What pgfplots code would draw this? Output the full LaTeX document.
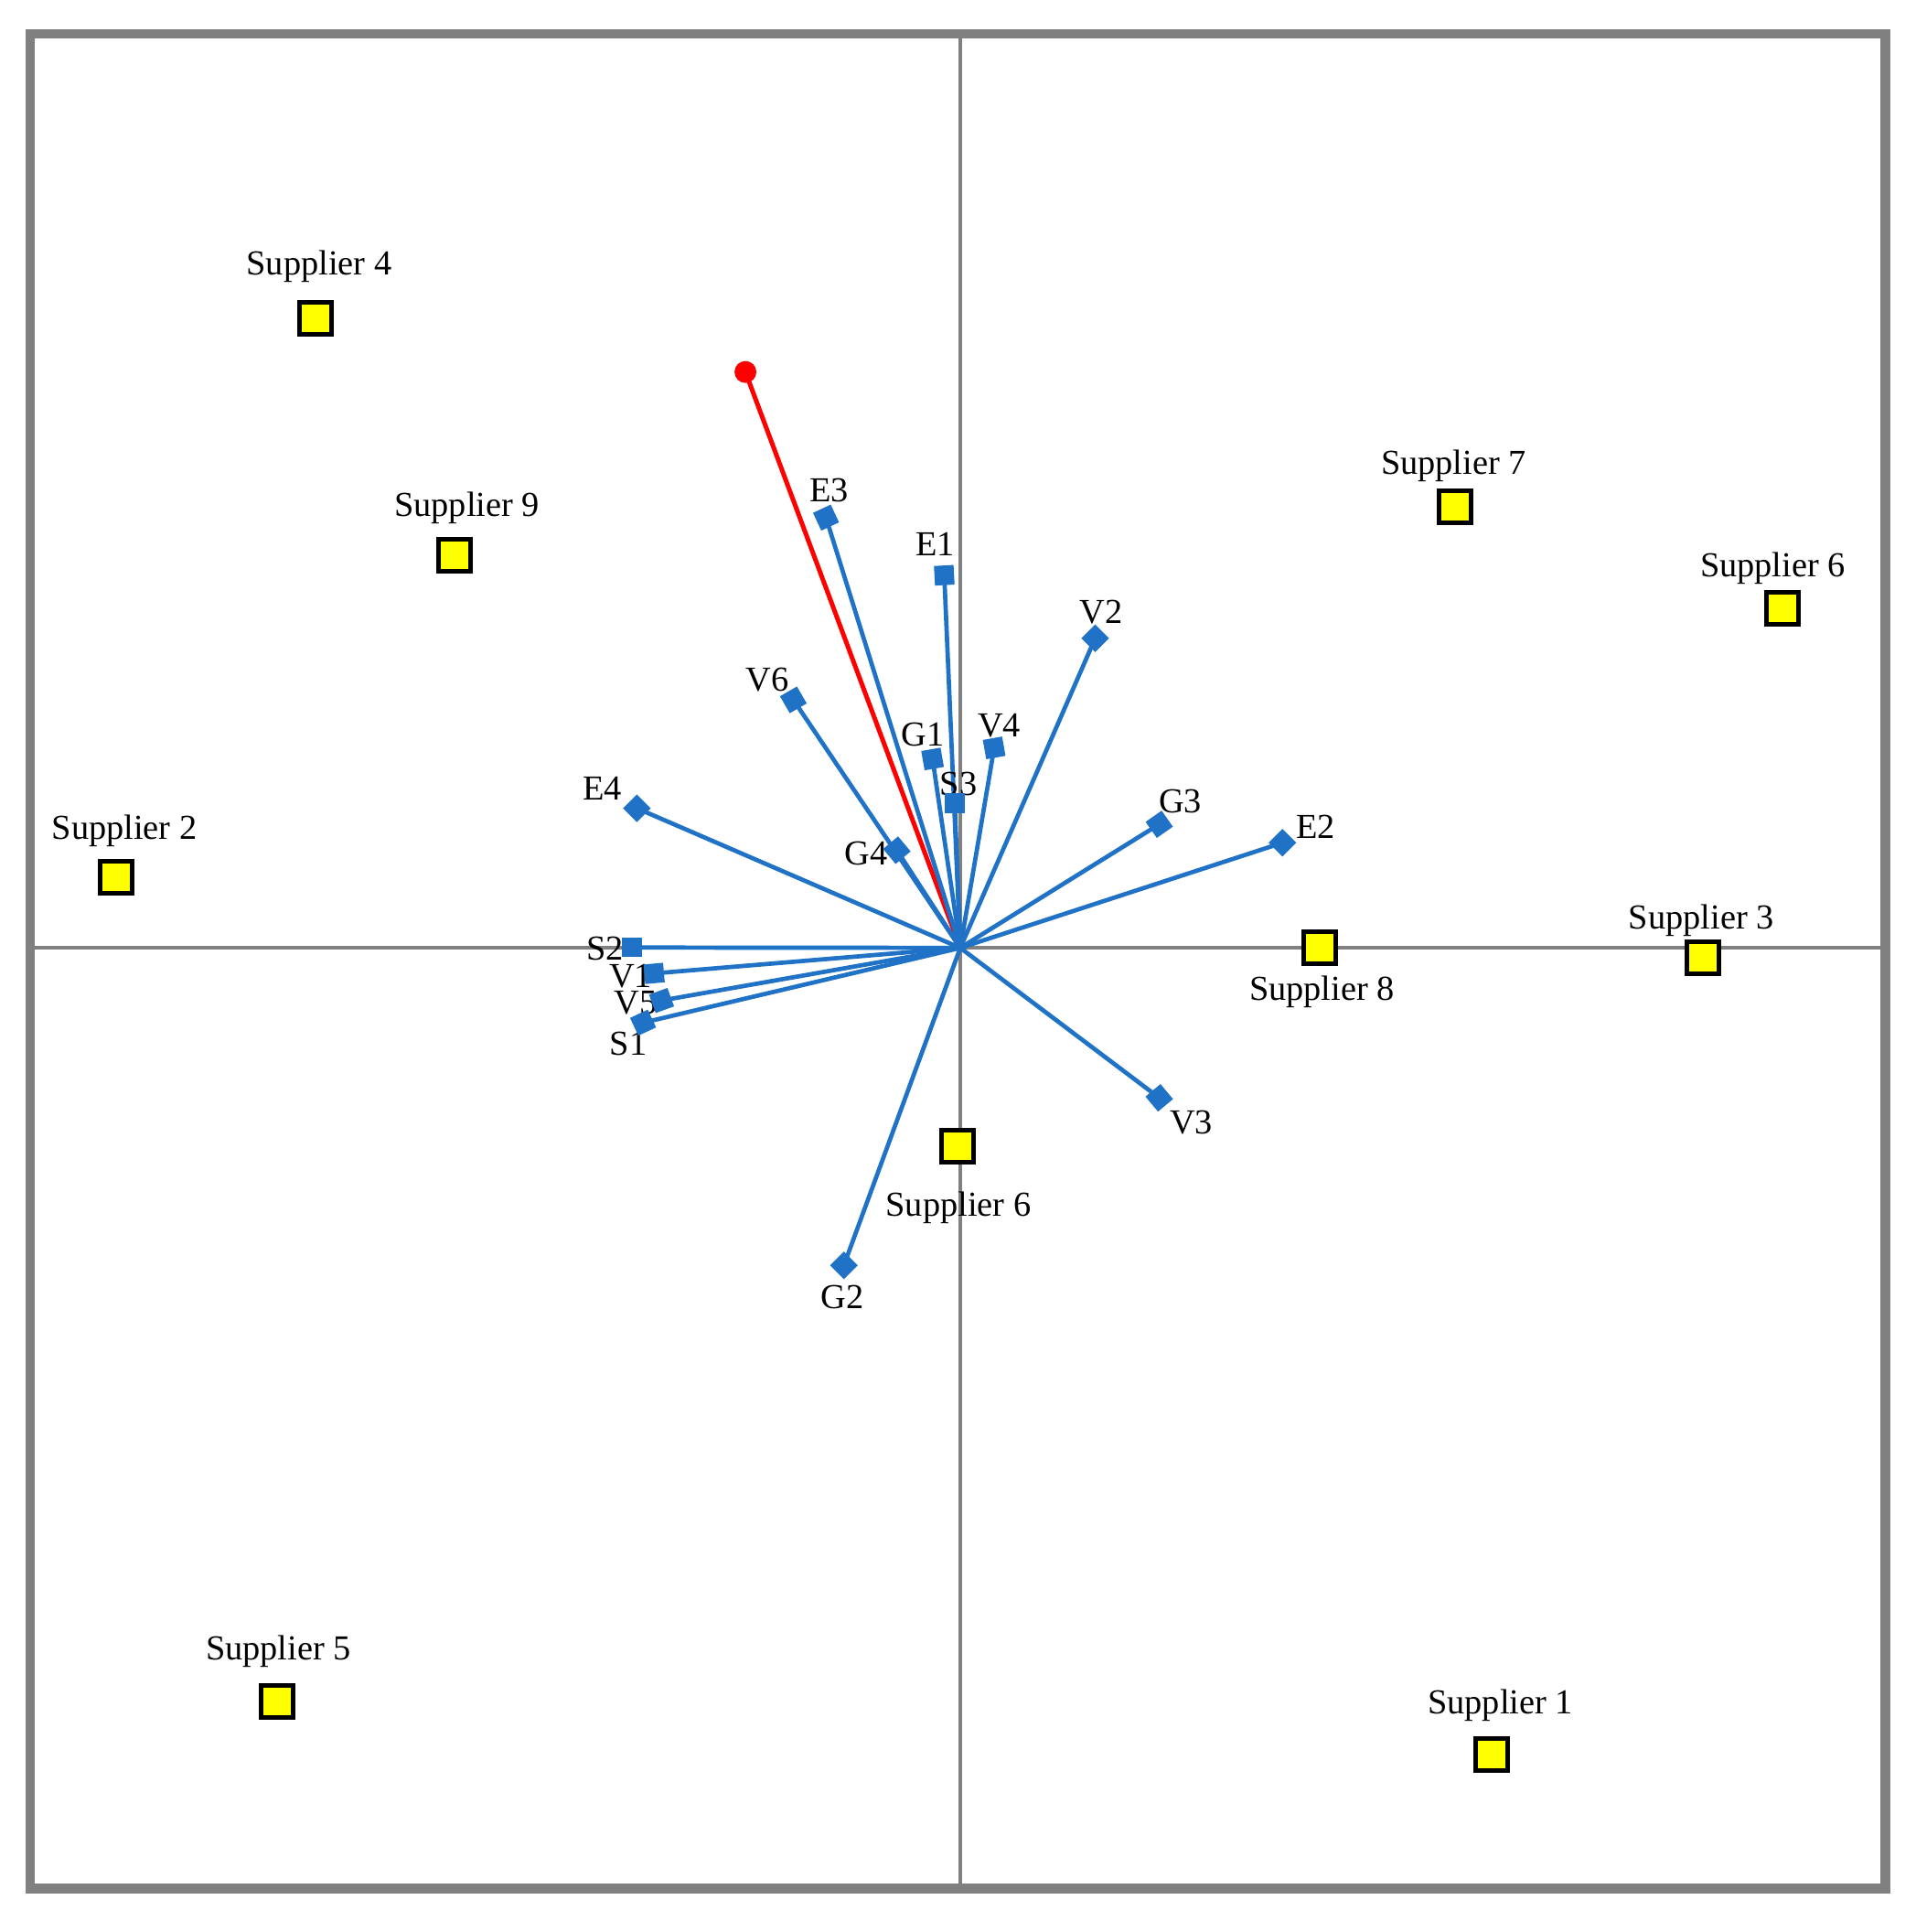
\documentclass[border=0pt]{standalone}
\usepackage{fontspec}
\setmainfont{Liberation Serif}
\usepackage{pgfplots}
\pgfplotsset{compat=1.18}
\definecolor{vecBlue}{HTML}{1F72C6}
\definecolor{supYellow}{HTML}{FFFF00}
\tikzset{
  vec/.style={vecBlue, line width=0.35mm, mark=square*, mark indices={2}, mark size=0.62mm},
  lbl/.style={font=\fontsize{8.1}{10}\selectfont, inner sep=0pt, anchor=center},
}

\begin{document}
\begin{tikzpicture}
\begin{axis}[
  scale only axis, width=150.61mm, height=150.52mm,
  xmin=-755, xmax=751, ymin=-763.4, ymax=741.8,
  ticks=none, clip=false,
  axis line style={draw=gray, line width=2.3pt},
]
% quadrant lines
\addplot[gray, line width=0.3mm] coordinates {(-755,0) (751,0)};
\addplot[gray, line width=0.3mm] coordinates {(0,-763.4) (0,741.8)};

% red reference vector
\addplot[red, line width=0.37mm, mark=*, mark indices={2}, mark size=0.7mm] coordinates {(0,0) (-174.4,467.4)};

% attribute vectors
\addplot[vec, mark options={rotate=25}] coordinates {(0,0) (-109,349.2)};   % E3
\addplot[vec, mark options={rotate=3}]  coordinates {(0,0) (-13,302.4)};    % E1
\addplot[vec, mark options={rotate=45}] coordinates {(0,0) (109.5,251.3)};  % V2
\addplot[vec, mark options={rotate=30}] coordinates {(0,0) (-135.5,201.3)}; % V6
\addplot[vec, mark options={rotate=10}] coordinates {(0,0) (-22.5,153.3)};  % G1
\addplot[vec, mark options={rotate=10}] coordinates {(0,0) (27.5,162.3)};   % V4
\addplot[vec, mark options={rotate=0}]  coordinates {(0,0) (-4.5,117.3)};   % S3
\addplot[vec, mark options={rotate=45}] coordinates {(0,0) (-262.5,113.3)}; % E4
\addplot[vec, mark options={rotate=35}] coordinates {(0,0) (161.5,100.3)};  % G3
\addplot[vec, mark options={rotate=45}] coordinates {(0,0) (261.5,85.3)};   % E2
\addplot[vec, mark options={rotate=40}] coordinates {(0,0) (-51.5,79.3)};   % G4
\addplot[vec, mark options={rotate=0}]  coordinates {(0,0) (-266.5,0.3)};   % S2
\addplot[vec, mark options={rotate=5}]  coordinates {(0,0) (-248.5,-20.7)}; % V1
\addplot[vec, mark options={rotate=20}] coordinates {(0,0) (-242.5,-42.7)}; % V5
\addplot[vec, mark options={rotate=25}] coordinates {(0,0) (-257.5,-60.7)}; % S1
\addplot[vec, mark options={rotate=40}] coordinates {(0,0) (161.5,-121.7)}; % V3
\addplot[vec, mark options={rotate=45}] coordinates {(0,0) (-94.5,-257.7)}; % G2

% suppliers
\addplot[only marks, mark=square*, mark size=1.3mm, mark options={draw=black, fill=supYellow, line width=0.37mm}] coordinates {
  (-523.5,510.8) (-410.5,318.3) (-685.5,57.3) (-554.5,-611.7) (401.5,358.3)
  (667.5,275.3) (602.5,-7.7) (291.5,0.3) (-2.5,-160.7) (431.5,-654.7)};

% vector labels
\node[lbl] at (axis cs:-106.5,371.3) {E3};
\node[lbl] at (axis cs:-20.5,327.3) {E1};
\node[lbl] at (axis cs:114.5,272.3) {V2};
\node[lbl] at (axis cs:-156.5,217.3) {V6};
\node[lbl] at (axis cs:-30.5,173.3) {G1};
\node[lbl] at (axis cs:31.5,180.3) {V4};
\node[lbl] at (axis cs:-1.5,133.3) {S3};
\node[lbl] at (axis cs:-290.5,129.3) {E4};
\node[lbl] at (axis cs:178.5,119.3) {G3};
\node[lbl] at (axis cs:288.5,98.3) {E2};
\node[lbl] at (axis cs:-76.5,76.3) {G4};
\node[lbl] at (axis cs:-288.5,-0.7) {S2};
\node[lbl] at (axis cs:-267.5,-22.7) {V1};
\node[lbl] at (axis cs:-263.5,-44.7) {V5};
\node[lbl] at (axis cs:-269.5,-77.7) {S1};
\node[lbl] at (axis cs:187.5,-141.7) {V3};
\node[lbl] at (axis cs:-95.5,-283.7) {G2};

% supplier labels
\node[lbl] at (axis cs:-520.5,553.3) {Supplier 4};
\node[lbl] at (axis cs:-400.5,357.3) {Supplier 9};
\node[lbl] at (axis cs:-678.5,95.3) {Supplier 2};
\node[lbl] at (axis cs:-553.5,-570.7) {Supplier 5};
\node[lbl] at (axis cs:400.5,391.3) {Supplier 7};
\node[lbl] at (axis cs:659.5,308.3) {Supplier 6};
\node[lbl] at (axis cs:601.5,22.3) {Supplier 3};
\node[lbl] at (axis cs:293.5,-35.7) {Supplier 8};
\node[lbl] at (axis cs:-1.5,-210.7) {Supplier 6};
\node[lbl] at (axis cs:438.5,-614.7) {Supplier 1};

\coordinate (bl) at (rel axis cs:0,0);
\coordinate (tr) at (rel axis cs:1,1);
\end{axis}
\pgfresetboundingbox
\path[use as bounding box] ([xshift=-2.45mm,yshift=-3.53mm]bl) rectangle ([xshift=2.44mm,yshift=2.75mm]tr);
\end{tikzpicture}
\end{document}
